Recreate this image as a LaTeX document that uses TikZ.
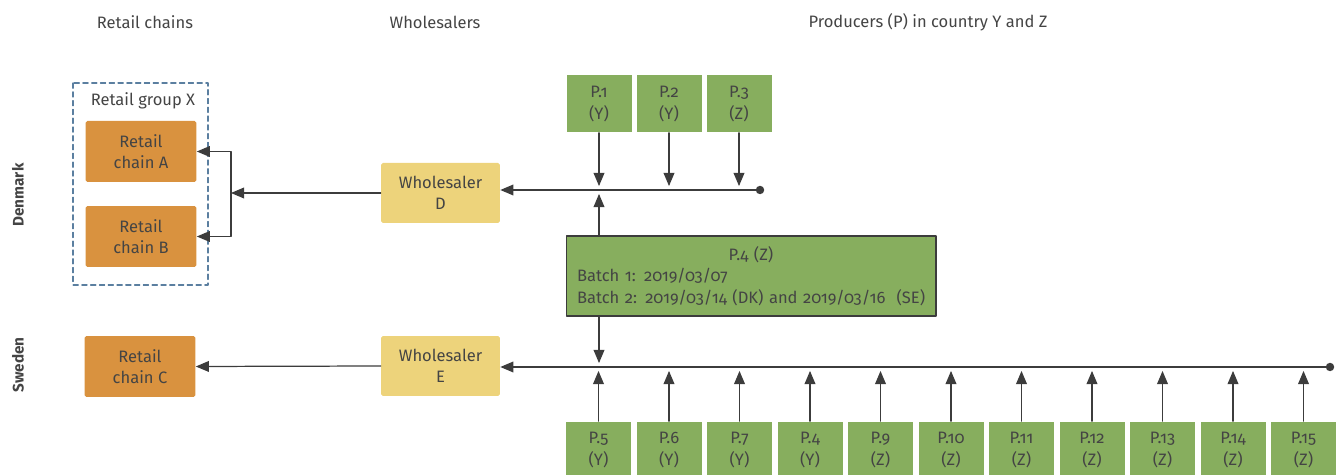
\documentclass[tikz,border=0pt]{standalone}
\usepackage{fontspec}
\setmainfont{Fira Sans}[Numbers=OldStyle]
\usepackage{xcolor}
\usetikzlibrary{arrows}
\definecolor{prodgreen}{HTML}{87AE5E}
\definecolor{retailorange}{HTML}{D9923F}
\definecolor{wholeyellow}{HTML}{EDD37B}
\definecolor{txtgray}{HTML}{444444}
\definecolor{linegray}{HTML}{3C3C3C}
\definecolor{groupblue}{HTML}{5B7FA0}
\tikzset{
	retail/.style={fill=retailorange, rounded corners=1pt, minimum width=2.22cm, minimum height=1.22cm, align=center, inner sep=0pt},
	whole/.style={fill=wholeyellow, rounded corners=1pt, minimum width=2.38cm, minimum height=1.2cm, align=center, inner sep=0pt},
	prod/.style={fill=prodgreen, minimum width=1.3cm, minimum height=1.14cm, align=center, inner sep=0pt},
	prodbig/.style={fill=prodgreen, draw=linegray, line width=0.6pt, minimum height=1.6cm, text width=6.96cm, inner xsep=0.22cm, inner ysep=0pt, align=left},
	flow/.style={->, line width=0.7pt, color=linegray, shorten >=0.08cm}
}

\begin{document}
\begin{tikzpicture}[line cap=round,line join=round,>=triangle 45,x=0.02cm,y=-0.02cm,text=txtgray,font=\fontsize{9.4}{12.2}\selectfont]
		\useasboundingbox (0,0) rectangle (1341,475);
		\clip (0,0) rectangle (1341,475);
		% column headings
		\node (hretail) at (145,22) {Retail chains};
		\node (hwhole) at (435,22) {Wholesalers};
		\node (hprod) at (928,22) {Producers (P) in country Y and Z};
		\node[rotate=90, font=\fontsize{8.7}{10}\selectfont\bfseries] (dk) at (18,195) {Denmark};
		\node[rotate=90, font=\fontsize{8.7}{10}\selectfont\bfseries] (se) at (18,365) {Sweden};
		% retail chains
		\draw [dashed, dash pattern=on 3pt off 2pt, line width=0.6pt, color=groupblue] (73,83) rectangle (208,285);
		\node (grpX) at (143,101) {Retail group X};
		\node[retail] (rcA) at (141,151.5) {Retail\\chain A};
		\node[retail] (rcB) at (141,236.5) {Retail\\chain B};
		\node[retail] (rcC) at (140,366.5) {Retail\\chain C};
		% wholesalers
		\node[whole] (whD) at (440.5,193) {Wholesaler\\D};
		\node[whole] (whE) at (440.5,366) {Wholesaler\\E};
		% producers
		\node[prod] (p1) at (599,104) {P.1\\(Y)};
		\node[prod] (p2) at (669,104) {P.2\\(Y)};
		\node[prod] (p3) at (739,104) {P.3\\(Z)};
		\node[prodbig] (p4) at (751,276) {\makebox[\linewidth]{P.4 (Z)}\\Batch 1: 2019/03/07\\\mbox{Batch 2: 2019/03/14 (DK) and 2019/03/16~ (SE)}};
		\node[prod] (p5) at (598.5,450) {P.5\\(Y)};
		\node[prod] (p6) at (669,450) {P.6\\(Y)};
		\node[prod] (p7) at (739.5,450) {P.7\\(Y)};
		\node[prod] (p4b) at (810,450) {P.4\\(Y)};
		\node[prod] (p9) at (880.5,450) {P.9\\(Z)};
		\node[prod] (p10) at (951,450) {P.10\\(Z)};
		\node[prod] (p11) at (1021.5,450) {P.11\\(Z)};
		\node[prod] (p12) at (1092,450) {P.12\\(Z)};
		\node[prod] (p13) at (1162.5,450) {P.13\\(Z)};
		\node[prod] (p14) at (1233,450) {P.14\\(Z)};
		\node[prod] (p15) at (1303.5,450) {P.15\\(Z)};
		% collecting lines
		\coordinate (dkend) at (760,190);
		\coordinate (seend) at (1330,367);
		\coordinate (split) at (231,193);
		\draw [flow, shorten >=0pt] (dkend) -- (dkend -| whD.east);
		\draw [fill=linegray, draw=none] (dkend) circle (2.4pt);
		\draw [flow, shorten >=0pt] (seend) -- (seend -| whE.east);
		\draw [fill=linegray, draw=none] (seend) circle (2.4pt);
		\draw [flow] (p1.south) -- (p1.south |- dkend);
		\draw [flow] (p2.south) -- (p2.south |- dkend);
		\draw [flow] (p3.south) -- (p3.south |- dkend);
		\draw [flow] (p1.south |- p4.north) -- (p1.south |- dkend);
		\draw [flow] (p1.south |- p4.south) -- (p1.south |- seend);
		\draw [flow] (p5.north) -- (p5.north |- seend);
		\draw [flow] (p6.north) -- (p6.north |- seend);
		\draw [flow] (p7.north) -- (p7.north |- seend);
		\draw [flow] (p4b.north) -- (p4b.north |- seend);
		\draw [flow] (p9.north) -- (p9.north |- seend);
		\draw [flow] (p10.north) -- (p10.north |- seend);
		\draw [flow] (p11.north) -- (p11.north |- seend);
		\draw [flow] (p12.north) -- (p12.north |- seend);
		\draw [flow] (p13.north) -- (p13.north |- seend);
		\draw [flow] (p14.north) -- (p14.north |- seend);
		\draw [flow] (p15.north) -- (p15.north |- seend);
		% wholesalers to retail chains
		\draw [flow, shorten >=0pt] (whD.west) -- (split);
		\draw [flow, shorten >=0pt] (split) |- (rcA.east);
		\draw [flow, shorten >=0pt] (split) |- (rcB.east);
		\draw [flow, shorten >=0pt] (whE.west) -- (rcC.east);
\end{tikzpicture}
\end{document}
